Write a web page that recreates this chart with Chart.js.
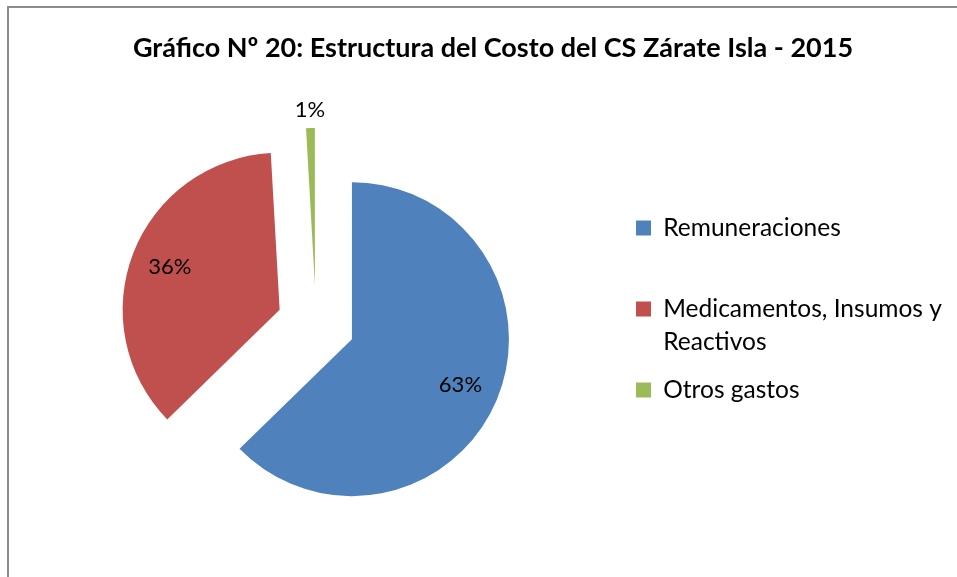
<!DOCTYPE html>
<html>
<head>
<meta charset="utf-8">
<script src="https://cdn.jsdelivr.net/npm/chart.js@4.4.1/dist/chart.umd.min.js"></script>
<style>
  html, body { margin: 0; padding: 0; background: #fff; overflow: hidden; width: 957px; height: 577px; }
  #frame { position: absolute; left: 7px; top: 6px; width: 1100px; height: 700px;
           border-left: 2px solid #8c8c8c; border-top: 2px solid #8c8c8c; box-sizing: border-box; }
  #chart { position: absolute; left: 0; top: 0; }
  #title { position: absolute; left: 7px; width: 972px; top: 30px; line-height: 30px;
           text-align: center; font: bold 27px Lato, sans-serif; color: #000; white-space: nowrap; }
</style>
</head>
<body>
<div id="frame"></div>
<canvas id="chart" width="1100" height="577"></canvas>
<div id="title">Gráfico Nº 20: Estructura del Costo del CS Zárate Isla - 2015</div>
<script>
// ---- data ----
const categories = ['Remuneraciones', 'Medicamentos, Insumos y Reactivos', 'Otros gastos'];
const legendLines = [['Remuneraciones', ''], ['Medicamentos, Insumos y', 'Reactivos'], ['Otros gastos', '']];
const shares = [62.7, 36.4, 0.9];
const colors = ['#4F81BD', '#C0504D', '#9BBB59'];

// ---- styling / layout constants ----
const FONT = 'Lato, sans-serif';
const LABEL_SIZE = 22;
const LEGEND_SIZE = 24.5;
const LEGEND_LINE = 33;
const pieRadius = 157;
const explode = 39;
const legendPad = 15;
const boxSize = 15;
const canvasW = 1100;
const legendBoxLeft = 636;
const chartLeft = 11;

// measure widest legend line to place the legend
const mctx = document.createElement('canvas').getContext('2d');
mctx.font = LEGEND_SIZE + 'px ' + FONT;
let wMax = 0;
legendLines.forEach(ls => ls.forEach(l => { wMax = Math.max(wMax, mctx.measureText(l).width); }));
const colW = boxSize + LEGEND_SIZE / 2 + wMax;
const legendLeft = legendBoxLeft - legendPad;
const padRight = canvasW - legendLeft - (legendPad + colW + 10);

const explodePlugin = {
  id: 'explodeSlices',
  beforeDatasetsDraw(chart) {
    chart.getDatasetMeta(0).data.forEach(arc => {
      if (arc._exploded) return;
      const baseDraw = arc.draw;
      arc.draw = function (ctx) {
        const mid = (this.startAngle + this.endAngle) / 2;
        ctx.save();
        ctx.translate(Math.cos(mid) * explode, Math.sin(mid) * explode);
        baseDraw.call(this, ctx);
        ctx.restore();
      };
      arc._exploded = true;
    });
  }
};

const labelPlugin = {
  id: 'pctLabels',
  afterDatasetsDraw(chart) {
    const meta = chart.getDatasetMeta(0);
    const data = chart.data.datasets[0].data;
    const total = data.reduce((a, b) => a + b, 0);
    const ctx = chart.ctx;
    ctx.save();
    ctx.font = LABEL_SIZE + 'px ' + FONT;
    ctx.fillStyle = '#000';
    ctx.textAlign = 'center';
    ctx.textBaseline = 'middle';
    meta.data.forEach((arc, i) => {
      const pct = data[i] / total * 100;
      const mid = (arc.startAngle + arc.endAngle) / 2;
      const dist = pct < 5 ? explode + arc.outerRadius + 18 : explode + 0.75 * arc.outerRadius;
      ctx.fillText(Math.round(pct) + '%', arc.x + Math.cos(mid) * dist, arc.y + Math.sin(mid) * dist);
    });
    ctx.restore();
  }
};

new Chart(document.getElementById('chart'), {
  type: 'pie',
  data: {
    labels: categories,
    datasets: [{
      data: shares,
      backgroundColor: colors,
      borderWidth: 0,
      clip: false
    }]
  },
  options: {
    responsive: false,
    animation: false,
    events: [],
    radius: pieRadius,
    layout: { padding: { left: chartLeft, top: 71, bottom: 0, right: padRight } },
    plugins: {
      tooltip: { enabled: false },
      title: { display: false },
      legend: {
        position: 'right',
        align: 'center',
        title: { display: true, text: '', padding: 0, font: { size: 10, lineHeight: 1.15 } },
        labels: {
          color: '#000',
          boxWidth: boxSize,
          boxHeight: boxSize,
          padding: legendPad,
          font: { family: FONT, size: LEGEND_SIZE, lineHeight: LEGEND_LINE / LEGEND_SIZE },
          generateLabels(chart) {
            const items = Chart.overrides.pie.plugins.legend.labels.generateLabels(chart);
            items.forEach((it, i) => { it.text = legendLines[i]; it.lineWidth = 0; });
            return items;
          }
        }
      }
    }
  },
  plugins: [explodePlugin, labelPlugin]
});
</script>
</body>
</html>
